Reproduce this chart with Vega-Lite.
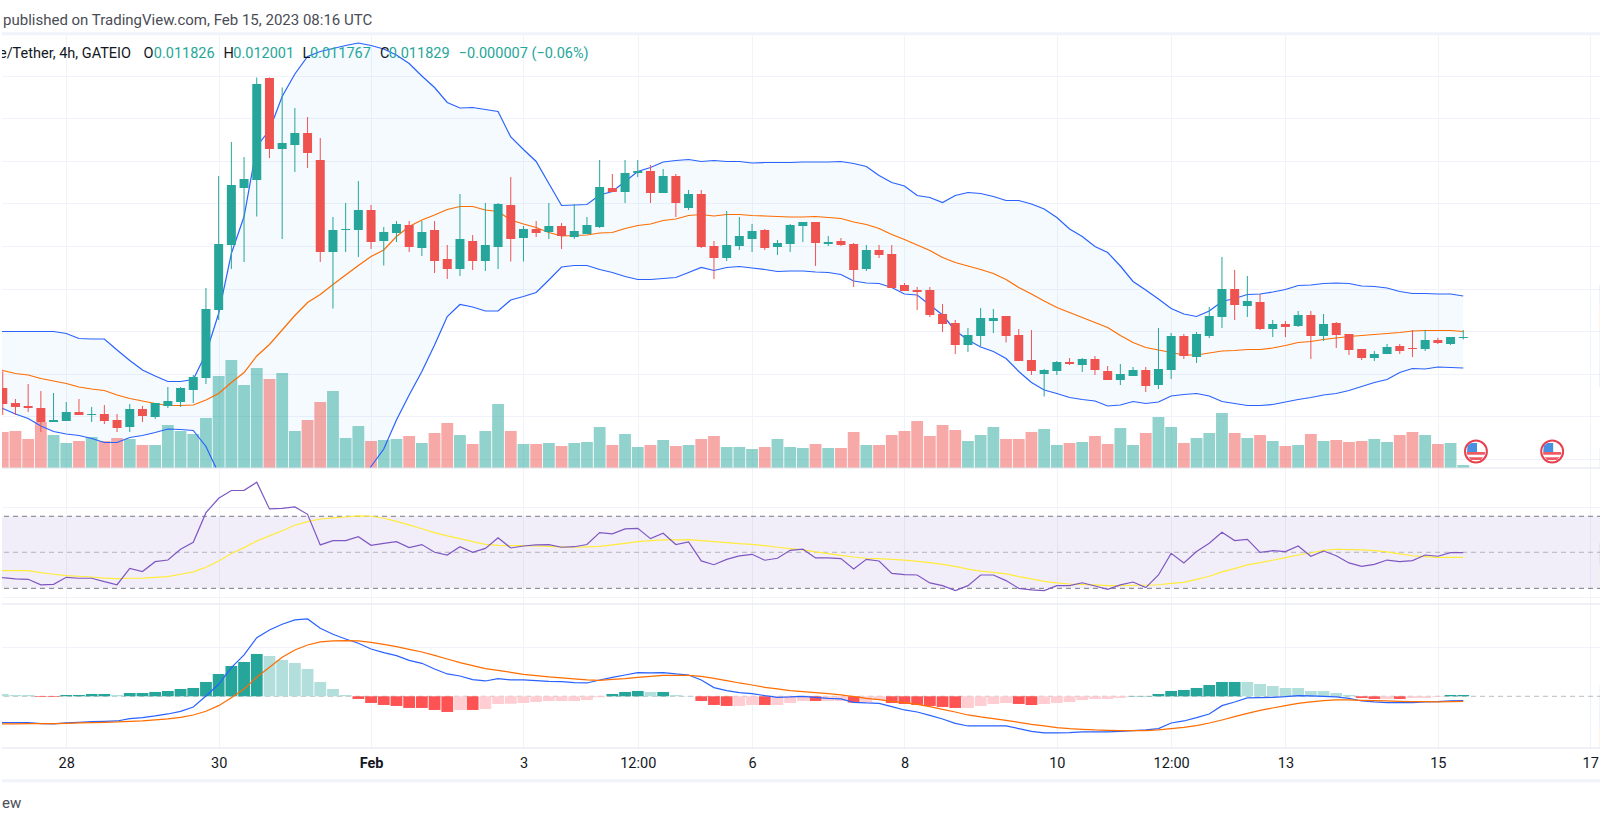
{"$schema":"https://vega.github.io/schema/vega-lite/v6.json","padding":0,"spacing":0,"bounds":"flush","background":"#ffffff","config":{"view":{"stroke":null},"concat":{"spacing":0}},
"datasets":{"bars":[
{"i":-6,"u":0.01195,"m":0.01121,"b":0.0105,"r":37,"s":39.8,"ml":-79,"sl":-83},
{"i":-5,"o":0.01082,"h":0.01115,"l":0.01028,"c":0.0105,"v":108,"d":"dn","u":0.01195,"m":0.01117,"b":0.01041,"r":35.9,"s":39.8,"hc":"b","mh":7,"ml":-79,"sl":-83},
{"i":-4,"o":0.01052,"h":0.0106,"l":0.01028,"c":0.01044,"v":111,"d":"dn","u":0.01195,"m":0.01111,"b":0.0103,"r":35.2,"s":39.8,"hc":"b","mh":4,"ml":-79,"sl":-83},
{"i":-3,"o":0.01046,"h":0.0109,"l":0.01034,"c":0.01042,"v":87,"d":"dn","u":0.01195,"m":0.01108,"b":0.01021,"r":35,"s":39.8,"hc":"b","mh":4,"ml":-79,"sl":-82},
{"i":-2,"o":0.01042,"h":0.01076,"l":0.00994,"c":0.01014,"v":138,"d":"dn","u":0.01195,"m":0.01101,"b":0.01006,"r":31.9,"s":38.7,"hc":"c","mh":-2,"ml":-82,"sl":-82},
{"i":-1,"o":0.01014,"h":0.01072,"l":0.01014,"c":0.01018,"v":99,"d":"up","u":0.01195,"m":0.01096,"b":0.00995,"r":32.2,"s":37.8,"hc":"c","mh":-2,"ml":-83,"sl":-82},
{"i":0,"o":0.01016,"h":0.01054,"l":0.01016,"c":0.01034,"v":75,"d":"up","u":0.01191,"m":0.01091,"b":0.0099,"r":36.1,"s":37,"hc":"a","mh":4,"ml":-80,"sl":-81},
{"i":1,"o":0.01034,"h":0.0106,"l":0.01028,"c":0.01028,"v":81,"d":"dn","u":0.01181,"m":0.01084,"b":0.00987,"r":35.6,"s":36.7,"hc":"a","mh":4,"ml":-78,"sl":-80},
{"i":2,"o":0.01028,"h":0.01044,"l":0.01014,"c":0.0103,"v":93,"d":"up","u":0.0118,"m":0.0108,"b":0.00981,"r":35.6,"s":36.3,"hc":"a","mh":7,"ml":-76,"sl":-79},
{"i":3,"o":0.0103,"h":0.01048,"l":0.0101,"c":0.01016,"v":81,"d":"dn","u":0.0118,"m":0.01077,"b":0.00973,"r":33.7,"s":35.7,"hc":"a","mh":7,"ml":-75,"sl":-78},
{"i":4,"o":0.01018,"h":0.0103,"l":0.00994,"c":0.01002,"v":90,"d":"dn","u":0.01158,"m":0.01068,"b":0.00973,"r":32,"s":35.4,"hc":"b","mh":4,"ml":-74,"sl":-77},
{"i":5,"o":0.01004,"h":0.0105,"l":0.00994,"c":0.0104,"v":87,"d":"up","u":0.01137,"m":0.01061,"b":0.00983,"r":41.1,"s":35.6,"hc":"a","mh":10,"ml":-67,"sl":-75},
{"i":6,"o":0.0104,"h":0.01046,"l":0.01014,"c":0.01026,"v":69,"d":"dn","u":0.01118,"m":0.01056,"b":0.00987,"r":39.3,"s":35.7,"hc":"a","mh":10,"ml":-64,"sl":-74},
{"i":7,"o":0.01024,"h":0.01052,"l":0.0102,"c":0.01052,"v":69,"d":"up","u":0.01106,"m":0.01051,"b":0.00993,"r":44.8,"s":36.1,"hc":"a","mh":13,"ml":-59,"sl":-71},
{"i":8,"o":0.01046,"h":0.01084,"l":0.01042,"c":0.01056,"v":129,"d":"up","u":0.01095,"m":0.01047,"b":0.01,"r":45.7,"s":36.5,"hc":"a","mh":16,"ml":-53,"sl":-68},
{"i":9,"o":0.01054,"h":0.01084,"l":0.01044,"c":0.01082,"v":111,"d":"up","u":0.01095,"m":0.01047,"b":0.00999,"r":51.7,"s":37.8,"hc":"a","mh":22,"ml":-45,"sl":-63},
{"i":10,"o":0.01078,"h":0.01108,"l":0.01052,"c":0.01104,"v":102,"d":"up","u":0.01099,"m":0.01048,"b":0.00997,"r":55.6,"s":39.1,"hc":"a","mh":25,"ml":-32,"sl":-56},
{"i":11,"o":0.01102,"h":0.01282,"l":0.0109,"c":0.0124,"v":150,"d":"up","u":0.01151,"m":0.01058,"b":0.00965,"r":72,"s":41.7,"hc":"a","mh":43,"ml":1,"sl":-45},
{"i":12,"o":0.01238,"h":0.01506,"l":0.01218,"c":0.0137,"v":276,"d":"up","u":0.01231,"m":0.01071,"b":0.00911,"r":80,"s":45.2,"hc":"a","mh":67,"ml":36,"sl":-28},
{"i":13,"o":0.01368,"h":0.01574,"l":0.0132,"c":0.01488,"v":324,"d":"up","u":0.01351,"m":0.01093,"b":0.00835,"r":84.3,"s":49.3,"hc":"a","mh":91,"ml":86,"sl":-4},
{"i":14,"o":0.01482,"h":0.01544,"l":0.01334,"c":0.015,"v":249,"d":"up","u":0.01425,"m":0.01113,"b":0.00801,"r":84.4,"s":52.6,"hc":"a","mh":103,"ml":124,"sl":22},
{"i":15,"o":0.01498,"h":0.01703,"l":0.01425,"c":0.0169,"v":300,"d":"up","u":0.01565,"m":0.01146,"b":0.00727,"r":88.9,"s":56.3,"hc":"a","mh":127,"ml":176,"sl":57},
{"i":16,"o":0.01702,"h":0.01703,"l":0.01542,"c":0.0156,"v":267,"d":"dn","u":0.01598,"m":0.01169,"b":0.0074,"r":74.1,"s":59.1,"hc":"b","mh":121,"ml":199,"sl":87},
{"i":17,"o":0.0156,"h":0.01683,"l":0.0138,"c":0.01572,"v":285,"d":"up","u":0.01665,"m":0.01198,"b":0.00731,"r":74.4,"s":62,"hc":"b","mh":109,"ml":216,"sl":117},
{"i":18,"o":0.01568,"h":0.01642,"l":0.01514,"c":0.01592,"v":111,"d":"up","u":0.0171,"m":0.01227,"b":0.00744,"r":75.2,"s":65,"hc":"b","mh":100,"ml":229,"sl":139},
{"i":19,"o":0.01592,"h":0.01624,"l":0.01522,"c":0.01552,"v":144,"d":"dn","u":0.01745,"m":0.01253,"b":0.00761,"r":71.1,"s":67,"hc":"b","mh":82,"ml":232,"sl":154},
{"i":20,"o":0.01538,"h":0.01582,"l":0.01334,"c":0.01354,"v":198,"d":"dn","u":0.01755,"m":0.01269,"b":0.00783,"r":54.1,"s":68.5,"hc":"b","mh":43,"ml":204,"sl":163},
{"i":21,"o":0.01354,"h":0.01424,"l":0.01241,"c":0.01398,"v":231,"d":"up","u":0.01761,"m":0.01289,"b":0.00817,"r":56.5,"s":69.1,"hc":"b","mh":22,"ml":186,"sl":166},
{"i":22,"o":0.01398,"h":0.01452,"l":0.01354,"c":0.014,"v":90,"d":"up","u":0.01767,"m":0.01308,"b":0.00849,"r":56.5,"s":69.6,"hc":"b","mh":4,"ml":172,"sl":167},
{"i":23,"o":0.01398,"h":0.01496,"l":0.01344,"c":0.01438,"v":126,"d":"up","u":0.01772,"m":0.01327,"b":0.00878,"r":58.7,"s":70.2,"hc":"c","mh":-8,"ml":159,"sl":166},
{"i":24,"o":0.01438,"h":0.01448,"l":0.0136,"c":0.01374,"v":81,"d":"dn","u":0.01767,"m":0.01345,"b":0.00925,"r":53.9,"s":70,"hc":"c","mh":-20,"ml":142,"sl":162},
{"i":25,"o":0.01376,"h":0.01404,"l":0.01327,"c":0.01394,"v":84,"d":"up","u":0.0176,"m":0.01358,"b":0.0096,"r":55,"s":68.9,"hc":"c","mh":-26,"ml":131,"sl":156},
{"i":26,"o":0.01392,"h":0.01416,"l":0.01374,"c":0.0141,"v":87,"d":"up","u":0.01748,"m":0.01385,"b":0.01018,"r":55.9,"s":67.2,"hc":"c","mh":-29,"ml":122,"sl":149},
{"i":27,"o":0.01408,"h":0.01416,"l":0.01354,"c":0.01364,"v":96,"d":"dn","u":0.01731,"m":0.01405,"b":0.01068,"r":52.6,"s":65.2,"hc":"c","mh":-35,"ml":108,"sl":141},
{"i":28,"o":0.01362,"h":0.01416,"l":0.01346,"c":0.01394,"v":75,"d":"up","u":0.01706,"m":0.01418,"b":0.01115,"r":54.3,"s":63.1,"hc":"c","mh":-35,"ml":99,"sl":133},
{"i":29,"o":0.01398,"h":0.01416,"l":0.01312,"c":0.01336,"v":105,"d":"dn","u":0.01683,"m":0.01428,"b":0.01168,"r":50,"s":60.9,"hc":"c","mh":-41,"ml":82,"sl":123},
{"i":30,"o":0.0134,"h":0.01368,"l":0.013,"c":0.0132,"v":135,"d":"dn","u":0.01653,"m":0.01439,"b":0.01225,"r":48.5,"s":59.1,"hc":"c","mh":-47,"ml":67,"sl":112},
{"i":31,"o":0.0132,"h":0.0147,"l":0.01306,"c":0.0138,"v":99,"d":"up","u":0.01642,"m":0.01445,"b":0.01249,"r":53.1,"s":57.6,"hc":"e","mh":-41,"ml":61,"sl":101},
{"i":32,"o":0.01376,"h":0.01388,"l":0.01318,"c":0.01336,"v":72,"d":"dn","u":0.01643,"m":0.01445,"b":0.01244,"r":50,"s":55.9,"hc":"c","mh":-41,"ml":50,"sl":92},
{"i":33,"o":0.01336,"h":0.01452,"l":0.01316,"c":0.01368,"v":111,"d":"up","u":0.01639,"m":0.01438,"b":0.01236,"r":52.2,"s":54.4,"hc":"e","mh":-38,"ml":46,"sl":83},
{"i":34,"o":0.01364,"h":0.01452,"l":0.0132,"c":0.0145,"v":192,"d":"up","u":0.01635,"m":0.01435,"b":0.01236,"r":58.1,"s":53.9,"hc":"e","mh":-23,"ml":53,"sl":78},
{"i":35,"o":0.01448,"h":0.01504,"l":0.01335,"c":0.0138,"v":111,"d":"dn","u":0.01584,"m":0.01418,"b":0.01258,"r":52.4,"s":53.7,"hc":"e","mh":-22,"ml":49,"sl":72},
{"i":36,"o":0.01382,"h":0.01406,"l":0.01335,"c":0.014,"v":72,"d":"up","u":0.01559,"m":0.0141,"b":0.01265,"r":53.5,"s":53.7,"hc":"e","mh":-20,"ml":49,"sl":66},
{"i":37,"o":0.014,"h":0.01416,"l":0.01384,"c":0.01392,"v":72,"d":"dn","u":0.01535,"m":0.01403,"b":0.01273,"r":54.1,"s":53.5,"hc":"e","mh":-17,"ml":47,"sl":62},
{"i":38,"o":0.01394,"h":0.01452,"l":0.0138,"c":0.01406,"v":75,"d":"up","u":0.01491,"m":0.01393,"b":0.01298,"r":54.3,"s":53.3,"hc":"e","mh":-14,"ml":45,"sl":58},
{"i":39,"o":0.01406,"h":0.01412,"l":0.0136,"c":0.01386,"v":66,"d":"dn","u":0.01447,"m":0.01386,"b":0.01324,"r":52.8,"s":53,"hc":"e","mh":-14,"ml":44,"sl":55},
{"i":40,"o":0.01384,"h":0.0145,"l":0.0138,"c":0.01396,"v":75,"d":"up","u":0.01448,"m":0.01387,"b":0.01327,"r":53.1,"s":52.8,"hc":"e","mh":-14,"ml":41,"sl":52},
{"i":41,"o":0.0139,"h":0.01424,"l":0.0139,"c":0.01408,"v":78,"d":"up","u":0.01449,"m":0.01388,"b":0.01327,"r":54.3,"s":53,"hc":"e","mh":-11,"ml":40,"sl":49},
{"i":42,"o":0.01404,"h":0.01538,"l":0.01402,"c":0.01484,"v":123,"d":"up","u":0.01468,"m":0.01392,"b":0.01319,"r":60.9,"s":53.3,"hc":"e","mh":-3,"ml":49,"sl":48},
{"i":43,"o":0.01482,"h":0.0151,"l":0.01474,"c":0.01474,"v":69,"d":"dn","u":0.01475,"m":0.01393,"b":0.01313,"r":60.2,"s":54.1,"hc":"a","mh":7,"ml":57,"sl":51},
{"i":44,"o":0.01474,"h":0.01538,"l":0.01452,"c":0.01512,"v":102,"d":"up","u":0.01495,"m":0.01401,"b":0.01305,"r":63,"s":55,"hc":"a","mh":13,"ml":64,"sl":53},
{"i":45,"o":0.01512,"h":0.01538,"l":0.01504,"c":0.01516,"v":63,"d":"up","u":0.01515,"m":0.01407,"b":0.01299,"r":63.3,"s":55.9,"hc":"a","mh":16,"ml":71,"sl":57},
{"i":46,"o":0.01516,"h":0.01528,"l":0.01452,"c":0.01472,"v":69,"d":"dn","u":0.01523,"m":0.0141,"b":0.01299,"r":57.6,"s":56.5,"hc":"b","mh":13,"ml":70,"sl":60},
{"i":47,"o":0.01472,"h":0.0152,"l":0.01472,"c":0.01506,"v":84,"d":"up","u":0.01534,"m":0.01417,"b":0.01301,"r":60.6,"s":56.9,"hc":"a","mh":13,"ml":71,"sl":63},
{"i":48,"o":0.01506,"h":0.0151,"l":0.01424,"c":0.01452,"v":66,"d":"dn","u":0.01537,"m":0.0142,"b":0.01303,"r":54.3,"s":56.9,"hc":"b","mh":4,"ml":67,"sl":63},
{"i":49,"o":0.01442,"h":0.01478,"l":0.01438,"c":0.0147,"v":69,"d":"up","u":0.01539,"m":0.01427,"b":0.01313,"r":55.7,"s":57,"hc":"b","mh":1,"ml":64,"sl":63},
{"i":50,"o":0.0147,"h":0.01478,"l":0.01362,"c":0.01364,"v":87,"d":"dn","u":0.01535,"m":0.01429,"b":0.01323,"r":45.2,"s":56.5,"hc":"c","mh":-14,"ml":49,"sl":60},
{"i":51,"o":0.01366,"h":0.01376,"l":0.013,"c":0.01342,"v":96,"d":"dn","u":0.01537,"m":0.01426,"b":0.01317,"r":43.1,"s":55.9,"hc":"c","mh":-26,"ml":26,"sl":54},
{"i":52,"o":0.01342,"h":0.01436,"l":0.01336,"c":0.01368,"v":63,"d":"up","u":0.01535,"m":0.01429,"b":0.01323,"r":46.1,"s":55.4,"hc":"c","mh":-29,"ml":17,"sl":47},
{"i":53,"o":0.01366,"h":0.01424,"l":0.01358,"c":0.01386,"v":63,"d":"up","u":0.01535,"m":0.01429,"b":0.01325,"r":48,"s":54.8,"hc":"e","mh":-29,"ml":11,"sl":40},
{"i":54,"o":0.0138,"h":0.0141,"l":0.01354,"c":0.01396,"v":57,"d":"up","u":0.01532,"m":0.01427,"b":0.01322,"r":48.9,"s":54.4,"hc":"e","mh":-26,"ml":8,"sl":34},
{"i":55,"o":0.01398,"h":0.014,"l":0.01358,"c":0.01362,"v":63,"d":"dn","u":0.01533,"m":0.01426,"b":0.01319,"r":45.6,"s":53.7,"hc":"c","mh":-26,"ml":2,"sl":27},
{"i":56,"o":0.01364,"h":0.01378,"l":0.01348,"c":0.01372,"v":87,"d":"up","u":0.01533,"m":0.01425,"b":0.01315,"r":46.7,"s":52.8,"hc":"e","mh":-26,"ml":-3,"sl":22},
{"i":57,"o":0.0137,"h":0.0141,"l":0.01354,"c":0.01408,"v":63,"d":"up","u":0.01533,"m":0.01424,"b":0.01316,"r":51.1,"s":52,"hc":"e","mh":-20,"ml":-2,"sl":17},
{"i":58,"o":0.01406,"h":0.01414,"l":0.01374,"c":0.01414,"v":60,"d":"up","u":0.01534,"m":0.01424,"b":0.01316,"r":51.7,"s":51.3,"hc":"e","mh":-14,"ml":0,"sl":14},
{"i":59,"o":0.01414,"h":0.01414,"l":0.01326,"c":0.01372,"v":72,"d":"dn","u":0.01534,"m":0.01425,"b":0.01314,"r":46.9,"s":50.2,"hc":"c","mh":-14,"ml":-3,"sl":11},
{"i":60,"o":0.0137,"h":0.01386,"l":0.01366,"c":0.01374,"v":60,"d":"up","u":0.01534,"m":0.01423,"b":0.01313,"r":46.9,"s":49.3,"hc":"e","mh":-14,"ml":-6,"sl":8},
{"i":61,"o":0.01376,"h":0.01382,"l":0.01366,"c":0.01368,"v":60,"d":"dn","u":0.01535,"m":0.01421,"b":0.01309,"r":46.5,"s":48.3,"hc":"e","mh":-14,"ml":-8,"sl":4},
{"i":62,"o":0.0137,"h":0.01372,"l":0.01284,"c":0.01318,"v":108,"d":"dn","u":0.01531,"m":0.01414,"b":0.01296,"r":40.7,"s":47.4,"hc":"c","mh":-19,"ml":-18,"sl":-1},
{"i":63,"o":0.0132,"h":0.01368,"l":0.01316,"c":0.01358,"v":69,"d":"up","u":0.01525,"m":0.01409,"b":0.01292,"r":46.1,"s":46.7,"hc":"e","mh":-19,"ml":-20,"sl":-6},
{"i":64,"o":0.01358,"h":0.01368,"l":0.01342,"c":0.01348,"v":69,"d":"dn","u":0.01507,"m":0.01401,"b":0.01291,"r":45.2,"s":46.5,"hc":"e","mh":-11,"ml":-21,"sl":-10},
{"i":65,"o":0.0135,"h":0.01368,"l":0.01282,"c":0.01282,"v":99,"d":"dn","u":0.01493,"m":0.01389,"b":0.01283,"r":38.3,"s":46.1,"hc":"c","mh":-20,"ml":-31,"sl":-15},
{"i":66,"o":0.01288,"h":0.01292,"l":0.01276,"c":0.01276,"v":111,"d":"dn","u":0.01486,"m":0.01379,"b":0.0127,"r":37.6,"s":45.7,"hc":"c","mh":-23,"ml":-41,"sl":-19},
{"i":67,"o":0.01278,"h":0.01284,"l":0.01238,"c":0.01274,"v":141,"d":"dn","u":0.01467,"m":0.01368,"b":0.01268,"r":37.4,"s":45,"hc":"c","mh":-26,"ml":-47,"sl":-24},
{"i":68,"o":0.01278,"h":0.01284,"l":0.01224,"c":0.01228,"v":96,"d":"dn","u":0.01463,"m":0.01357,"b":0.01248,"r":33,"s":44.3,"hc":"c","mh":-29,"ml":-57,"sl":-31},
{"i":69,"o":0.0123,"h":0.0125,"l":0.01194,"c":0.0121,"v":129,"d":"dn","u":0.01453,"m":0.01343,"b":0.01228,"r":31.5,"s":43.3,"hc":"c","mh":-32,"ml":-68,"sl":-39},
{"i":70,"o":0.01212,"h":0.01218,"l":0.0115,"c":0.01168,"v":114,"d":"dn","u":0.01467,"m":0.01333,"b":0.01197,"r":28.7,"s":42.2,"hc":"c","mh":-35,"ml":-81,"sl":-47},
{"i":71,"o":0.01168,"h":0.01202,"l":0.01154,"c":0.01188,"v":81,"d":"up","u":0.01473,"m":0.01326,"b":0.01178,"r":31.5,"s":40.7,"hc":"e","mh":-35,"ml":-89,"sl":-56},
{"i":72,"o":0.01186,"h":0.01242,"l":0.01166,"c":0.01222,"v":99,"d":"up","u":0.01471,"m":0.01319,"b":0.01164,"r":37.4,"s":39.6,"hc":"e","mh":-29,"ml":-89,"sl":-62},
{"i":73,"o":0.01216,"h":0.0124,"l":0.01192,"c":0.01222,"v":123,"d":"up","u":0.01465,"m":0.01311,"b":0.01155,"r":37.4,"s":38.9,"hc":"e","mh":-23,"ml":-89,"sl":-67},
{"i":74,"o":0.01226,"h":0.01226,"l":0.01173,"c":0.01186,"v":87,"d":"dn","u":0.01457,"m":0.01299,"b":0.01141,"r":34.3,"s":38,"hc":"e","mh":-20,"ml":-89,"sl":-72},
{"i":75,"o":0.01188,"h":0.012,"l":0.01136,"c":0.01136,"v":87,"d":"dn","u":0.01457,"m":0.01283,"b":0.01115,"r":30,"s":36.5,"hc":"c","mh":-23,"ml":-97,"sl":-78},
{"i":76,"o":0.01138,"h":0.01198,"l":0.01108,"c":0.01116,"v":108,"d":"dn","u":0.0145,"m":0.0127,"b":0.01093,"r":29.1,"s":35.2,"hc":"c","mh":-26,"ml":-105,"sl":-84},
{"i":77,"o":0.0111,"h":0.0112,"l":0.01065,"c":0.01118,"v":117,"d":"up","u":0.0144,"m":0.01256,"b":0.01078,"r":28.7,"s":33.9,"hc":"e","mh":-23,"ml":-110,"sl":-89},
{"i":78,"o":0.01116,"h":0.01136,"l":0.01108,"c":0.01134,"v":69,"d":"up","u":0.01423,"m":0.01243,"b":0.01071,"r":31.5,"s":33,"hc":"e","mh":-20,"ml":-110,"sl":-94},
{"i":79,"o":0.01134,"h":0.01142,"l":0.01128,"c":0.0113,"v":75,"d":"dn","u":0.014,"m":0.01233,"b":0.01063,"r":31.5,"s":32.4,"hc":"e","mh":-17,"ml":-109,"sl":-97},
{"i":80,"o":0.01128,"h":0.01142,"l":0.01114,"c":0.0114,"v":78,"d":"up","u":0.01385,"m":0.01223,"b":0.01059,"r":33.1,"s":32.2,"hc":"e","mh":-11,"ml":-107,"sl":-99},
{"i":81,"o":0.0114,"h":0.01146,"l":0.01108,"c":0.01118,"v":96,"d":"dn","u":0.01365,"m":0.01213,"b":0.01056,"r":31.3,"s":31.9,"hc":"e","mh":-8,"ml":-107,"sl":-101},
{"i":82,"o":0.01116,"h":0.01126,"l":0.01098,"c":0.01098,"v":72,"d":"dn","u":0.01353,"m":0.01203,"b":0.01046,"r":29.4,"s":31.5,"hc":"e","mh":-8,"ml":-107,"sl":-102},
{"i":83,"o":0.01098,"h":0.0113,"l":0.01088,"c":0.0111,"v":120,"d":"up","u":0.01326,"m":0.01187,"b":0.01048,"r":31.9,"s":31.5,"hc":"e","mh":-5,"ml":-105,"sl":-103},
{"i":84,"o":0.01106,"h":0.01124,"l":0.01106,"c":0.01118,"v":69,"d":"up","u":0.01295,"m":0.01173,"b":0.01055,"r":33.5,"s":31.7,"hc":"a","mh":1,"ml":-103,"sl":-103},
{"i":85,"o":0.01118,"h":0.01124,"l":0.01074,"c":0.01086,"v":105,"d":"dn","u":0.01278,"m":0.01163,"b":0.01051,"r":30.4,"s":31.7,"hc":"a","mh":1,"ml":-101,"sl":-103},
{"i":86,"o":0.01088,"h":0.01202,"l":0.0108,"c":0.0112,"v":153,"d":"up","u":0.0126,"m":0.01158,"b":0.01054,"r":37.4,"s":32,"hc":"a","mh":7,"ml":-97,"sl":-101},
{"i":87,"o":0.01118,"h":0.01192,"l":0.011,"c":0.01186,"v":123,"d":"up","u":0.01241,"m":0.01153,"b":0.01066,"r":49.4,"s":32.8,"hc":"a","mh":16,"ml":-80,"sl":-97},
{"i":88,"o":0.01186,"h":0.0119,"l":0.0114,"c":0.01146,"v":75,"d":"dn","u":0.0123,"m":0.01148,"b":0.01069,"r":44.1,"s":33.3,"hc":"a","mh":19,"ml":-74,"sl":-93},
{"i":89,"o":0.01144,"h":0.01194,"l":0.01132,"c":0.0119,"v":90,"d":"up","u":0.01225,"m":0.01148,"b":0.01071,"r":50.4,"s":35,"hc":"a","mh":25,"ml":-64,"sl":-88},
{"i":90,"o":0.01186,"h":0.01244,"l":0.01182,"c":0.01226,"v":105,"d":"up","u":0.01236,"m":0.01152,"b":0.01066,"r":55,"s":36.7,"hc":"a","mh":34,"ml":-53,"sl":-80},
{"i":91,"o":0.01224,"h":0.01344,"l":0.01202,"c":0.0128,"v":165,"d":"up","u":0.01255,"m":0.01156,"b":0.01055,"r":61.1,"s":39.1,"hc":"a","mh":43,"ml":-28,"sl":-71},
{"i":92,"o":0.0128,"h":0.01318,"l":0.01218,"c":0.01248,"v":105,"d":"dn","u":0.01261,"m":0.01157,"b":0.01051,"r":56.5,"s":40.9,"hc":"a","mh":43,"ml":-17,"sl":-61},
{"i":93,"o":0.01246,"h":0.01306,"l":0.01224,"c":0.01256,"v":90,"d":"up","u":0.01269,"m":0.01159,"b":0.01047,"r":57.2,"s":43,"hc":"b","mh":43,"ml":-5,"sl":-51},
{"i":94,"o":0.01254,"h":0.0127,"l":0.01198,"c":0.012,"v":99,"d":"dn","u":0.0127,"m":0.01159,"b":0.01047,"r":50,"s":44.3,"hc":"b","mh":37,"ml":-4,"sl":-42},
{"i":95,"o":0.012,"h":0.01218,"l":0.01184,"c":0.0121,"v":81,"d":"up","u":0.01274,"m":0.01162,"b":0.01049,"r":50.9,"s":45.6,"hc":"b","mh":31,"ml":-3,"sl":-35},
{"i":96,"o":0.0121,"h":0.01216,"l":0.01184,"c":0.01204,"v":66,"d":"dn","u":0.01279,"m":0.01167,"b":0.01054,"r":50.4,"s":47,"hc":"b","mh":25,"ml":-1,"sl":-28},
{"i":97,"o":0.01206,"h":0.01236,"l":0.01204,"c":0.01228,"v":69,"d":"up","u":0.01287,"m":0.01173,"b":0.01059,"r":53.5,"s":48.5,"hc":"b","mh":25,"ml":2,"sl":-21},
{"i":98,"o":0.01228,"h":0.01236,"l":0.0114,"c":0.01186,"v":102,"d":"dn","u":0.01288,"m":0.01175,"b":0.01063,"r":47.8,"s":49.6,"hc":"b","mh":16,"ml":1,"sl":-17},
{"i":99,"o":0.01186,"h":0.0123,"l":0.01176,"c":0.0121,"v":81,"d":"up","u":0.01291,"m":0.01179,"b":0.01068,"r":50.7,"s":51.1,"hc":"b","mh":16,"ml":0,"sl":-13},
{"i":100,"o":0.01212,"h":0.01214,"l":0.01162,"c":0.01188,"v":84,"d":"dn","u":0.01292,"m":0.01182,"b":0.01071,"r":48.1,"s":51.7,"hc":"b","mh":10,"ml":-2,"sl":-11},
{"i":101,"o":0.0119,"h":0.0119,"l":0.01148,"c":0.01158,"v":78,"d":"dn","u":0.01291,"m":0.01185,"b":0.01077,"r":44.1,"s":51.5,"hc":"b","mh":4,"ml":-6,"sl":-11},
{"i":102,"o":0.0116,"h":0.0116,"l":0.01138,"c":0.01142,"v":81,"d":"dn","u":0.01286,"m":0.01187,"b":0.01085,"r":42.2,"s":51.3,"hc":"c","mh":-5,"ml":-14,"sl":-12},
{"i":103,"o":0.01142,"h":0.01156,"l":0.01136,"c":0.0115,"v":87,"d":"up","u":0.01285,"m":0.01189,"b":0.01093,"r":43.3,"s":50.9,"hc":"c","mh":-8,"ml":-17,"sl":-13},
{"i":104,"o":0.0115,"h":0.0117,"l":0.0115,"c":0.01164,"v":78,"d":"up","u":0.01282,"m":0.01191,"b":0.01099,"r":45.7,"s":50.2,"hc":"e","mh":-8,"ml":-19,"sl":-14},
{"i":105,"o":0.01166,"h":0.0117,"l":0.0115,"c":0.01156,"v":99,"d":"dn","u":0.01275,"m":0.01193,"b":0.01113,"r":44.8,"s":49.1,"hc":"c","mh":-8,"ml":-19,"sl":-15},
{"i":106,"o":0.01162,"h":0.01198,"l":0.01144,"c":0.0116,"v":108,"d":"dn","u":0.01271,"m":0.01196,"b":0.01121,"r":45.4,"s":48.1,"hc":"e","mh":-5,"ml":-19,"sl":-16},
{"i":107,"o":0.0116,"h":0.01198,"l":0.01156,"c":0.01178,"v":99,"d":"up","u":0.01271,"m":0.01197,"b":0.0112,"r":48.5,"s":47.6,"hc":"e","mh":-5,"ml":-17,"sl":-16},
{"i":108,"o":0.01178,"h":0.01182,"l":0.0117,"c":0.01172,"v":72,"d":"dn","u":0.0127,"m":0.01197,"b":0.01124,"r":47.8,"s":47.2,"hc":"e","mh":-2,"ml":-16,"sl":-17},
{"i":109,"o":0.0117,"h":0.01184,"l":0.01168,"c":0.01184,"v":75,"d":"up","u":0.0127,"m":0.01197,"b":0.01123,"r":49.8,"s":47.2,"hc":"a","mh":4,"ml":-14,"sl":-16},
{"i":110,"o":0.01182,"h":0.01198,"l":0.01179,"c":0.01184,"v":9,"d":"up","u":0.01266,"m":0.01195,"b":0.01122,"r":49.8,"s":47.2,"hc":"a","mh":4,"ml":-13,"sl":-15}
],
"ohlc":[{"t":"e/Tether, 4h, GATEIO","at":-5.3,"k":"name"},{"t":"O","at":6.09,"k":"name"},{"t":"0.011826","at":6.89,"k":"val"},{"t":"H","at":12.38,"k":"name"},{"t":"0.012001","at":13.15,"k":"val"},{"t":"L","at":18.6,"k":"name"},{"t":"0.011767","at":19.19,"k":"val"},{"t":"C","at":24.7,"k":"name"},{"t":"0.011829","at":25.39,"k":"val"},{"t":"−0.000007 (−0.06%)","at":30.9,"k":"val"}],
"flags":[{"i":111,"p":0.00955},{"i":117,"p":0.00955}]},
"vconcat":[
{"width":1600,"height":35,"data":{"values":[{"t":"published on TradingView.com, Feb 15, 2023 08:16 UTC","at":-4.98}]},"layer":[
{"mark":{"type":"text","align":"left","baseline":"middle","font":"Roboto","fontSize":15,"color":"#4a4c55","clip":true},"encoding":{"x":{"field":"at","type":"quantitative","scale":{"domain":[-5.06,120.925],"nice":false,"zero":false,"padding":0},"axis":null},"y":{"datum":0.44,"type":"quantitative","scale":{"domain":[0,1],"nice":false},"axis":null},"text":{"field":"t"}}},
{"mark":{"type":"rule","color":"#f0f3fa","strokeWidth":3},"data":{"values":[{}]},"encoding":{"y":{"datum":0.037,"type":"quantitative","scale":{"domain":[0,1],"nice":false},"axis":null}}}
]},
{"width":1600,"height":433,"data":{"name":"bars"},"resolve":{"scale":{"y":"independent","color":"independent"},"axis":{"y":"independent"}},"layer":[
{"mark":{"type":"area","color":"#2196f3","opacity":0.05,"clip":true},"encoding":{"x":{"field":"i","type":"quantitative","scale":{"domain":[-5.06,120.925],"nice":false,"zero":false,"padding":0},"axis":{"values":[0,12,24,36,45,54,66,78,87,96,108,120],"title":null,"labels":false,"ticks":false,"domain":false,"grid":true,"gridColor":"#f0f3fa"}},"y":{"field":"u","type":"quantitative","scale":{"domain":[0.00922,0.01788],"nice":false,"zero":false},"axis":{"values":[0.01707,0.01622,0.01537,0.01452,0.01367,0.01281,0.01197,0.01111,0.01027,0.00941],"title":null,"labels":false,"ticks":false,"domain":false,"grid":true,"gridColor":"#f0f3fa"}},"y2":{"field":"b"}}},
{"mark":{"type":"bar","size":11.8,"opacity":0.5,"clip":true},"encoding":{"x":{"field":"i","type":"quantitative"},"y":{"field":"v","type":"quantitative","scale":{"domain":[0,1299],"nice":false},"axis":null},"color":{"field":"d","type":"nominal","legend":null,"scale":{"domain":["up","dn"],"range":["#26a69a","#ef5350"]}}}},
{"mark":{"type":"line","color":"#2962ff","strokeWidth":1.2,"clip":true},"encoding":{"x":{"field":"i","type":"quantitative"},"y":{"field":"u","type":"quantitative","scale":{"domain":[0.00922,0.01788],"nice":false,"zero":false},"axis":null}}},
{"mark":{"type":"line","color":"#2962ff","strokeWidth":1.2,"clip":true},"encoding":{"x":{"field":"i","type":"quantitative"},"y":{"field":"b","type":"quantitative","scale":{"domain":[0.00922,0.01788],"nice":false,"zero":false},"axis":null}}},
{"mark":{"type":"line","color":"#ff6d00","strokeWidth":1.2,"clip":true},"encoding":{"x":{"field":"i","type":"quantitative"},"y":{"field":"m","type":"quantitative","scale":{"domain":[0.00922,0.01788],"nice":false,"zero":false},"axis":null}}},
{"mark":{"type":"rule","strokeWidth":1,"clip":true},"encoding":{"x":{"field":"i","type":"quantitative"},"y":{"field":"h","type":"quantitative","scale":{"domain":[0.00922,0.01788],"nice":false,"zero":false},"axis":null},"y2":{"field":"l"},"color":{"field":"d","type":"nominal","legend":null,"scale":{"domain":["up","dn"],"range":["#26a69a","#ef5350"]}}}},
{"mark":{"type":"bar","size":9,"clip":true},"encoding":{"x":{"field":"i","type":"quantitative"},"y":{"field":"o","type":"quantitative","scale":{"domain":[0.00922,0.01788],"nice":false,"zero":false},"axis":null},"y2":{"field":"c"},"color":{"field":"d","type":"nominal","legend":null,"scale":{"domain":["up","dn"],"range":["#26a69a","#ef5350"]}}}},
{"data":{"name":"flags"},"mark":{"type":"point","shape":"circle","filled":true,"fill":"#ffffff","stroke":"#e8404e","strokeWidth":2,"size":480,"opacity":1},"encoding":{"x":{"field":"i","type":"quantitative"},"y":{"field":"p","type":"quantitative","scale":{"domain":[0.00922,0.01788],"nice":false,"zero":false},"axis":null}}},
{"data":{"name":"flags"},"mark":{"type":"point","shape":"M-0.85,0.05L0.85,0.05L0.85,0.3L-0.85,0.3ZM-0.7,0.55L0.7,0.55L0.45,0.8L-0.45,0.8Z","filled":true,"color":"#ef5a63","size":440,"opacity":1},"encoding":{"x":{"field":"i","type":"quantitative"},"y":{"field":"p","type":"quantitative","scale":{"domain":[0.00922,0.01788],"nice":false,"zero":false},"axis":null}}},
{"data":{"name":"flags"},"mark":{"type":"point","shape":"M-0.8,-0.55L-0.45,-0.8L0.1,-0.8L0.1,0.05L-0.85,0.05Z","filled":true,"color":"#4a90e2","size":440,"opacity":1},"encoding":{"x":{"field":"i","type":"quantitative"},"y":{"field":"p","type":"quantitative","scale":{"domain":[0.00922,0.01788],"nice":false,"zero":false},"axis":null}}},
{"data":{"name":"ohlc"},"mark":{"type":"text","align":"left","baseline":"middle","font":"Roboto","fontSize":14.5,"clip":true},"encoding":{"x":{"field":"at","type":"quantitative"},"y":{"datum":0.01751,"type":"quantitative","scale":{"domain":[0.00922,0.01788],"nice":false,"zero":false},"axis":null},"text":{"field":"t"},"color":{"field":"k","type":"nominal","legend":null,"scale":{"domain":["name","val"],"range":["#131722","#26a69a"]}}}},
{"data":{"values":[{}]},"mark":{"type":"rule","color":"#e0e3eb","strokeWidth":1},"encoding":{"x":{"datum":120.84,"type":"quantitative"}}},
{"data":{"values":[{"a":0.01288,"z":0.01246,"k":"blue"},{"a":0.01246,"z":0.01204,"k":"orange"},{"a":0.01204,"z":0.01126,"k":"green"},{"a":0.01126,"z":0.01084,"k":"blue"},{"a":0.00964,"z":0.00922,"k":"green"}]},"mark":{"type":"rule","strokeWidth":2},"encoding":{"x":{"datum":120.84,"type":"quantitative"},"y":{"field":"a","type":"quantitative","scale":{"domain":[0.00922,0.01788],"nice":false,"zero":false},"axis":null},"y2":{"field":"z"},"color":{"field":"k","type":"nominal","legend":null,"scale":{"domain":["blue","orange","green"],"range":["#2962ff","#ff6d00","#26a69a"]}}}}
]},
{"width":1600,"height":136,"data":{"name":"bars"},"layer":[
{"mark":{"type":"rect","color":"#7e57c2","opacity":0.1},"data":{"values":[{}]},"encoding":{"y":{"datum":70,"type":"quantitative","scale":{"domain":[21.3,96.8],"nice":false,"zero":false},"axis":{"values":[75,25.2],"title":null,"labels":false,"ticks":false,"domain":false,"grid":true,"gridColor":"#f0f3fa"}},"y2":{"datum":30}}},
{"mark":{"type":"rule","color":"#787b86","strokeDash":[5,4],"strokeWidth":1},"data":{"values":[{"lv":70},{"lv":30}]},"encoding":{"y":{"field":"lv","type":"quantitative"}}},
{"mark":{"type":"rule","color":"#787b86","strokeDash":[5,4],"strokeWidth":1,"opacity":0.5},"data":{"values":[{"lv":50}]},"encoding":{"y":{"field":"lv","type":"quantitative"}}},
{"mark":{"type":"line","color":"#ffeb3b","strokeWidth":1.2,"clip":true},"encoding":{"x":{"field":"i","type":"quantitative","scale":{"domain":[-5.06,120.925],"nice":false,"zero":false,"padding":0},"axis":{"values":[0,12,24,36,45,54,66,78,87,96,108,120],"title":null,"labels":false,"ticks":false,"domain":false,"grid":true,"gridColor":"#f0f3fa"}},"y":{"field":"s","type":"quantitative"}}},
{"mark":{"type":"line","color":"#7e57c2","strokeWidth":1.2,"clip":true},"encoding":{"x":{"field":"i","type":"quantitative"},"y":{"field":"r","type":"quantitative"}}},
{"mark":{"type":"rule","color":"#e0e3eb","strokeWidth":1},"data":{"values":[{"lv":96.8}]},"encoding":{"y":{"field":"lv","type":"quantitative"}}},
{"data":{"values":[{}]},"mark":{"type":"rule","color":"#e0e3eb","strokeWidth":1},"encoding":{"x":{"datum":120.84,"type":"quantitative"}}},
{"data":{"values":[{"a":55.2,"z":43.5,"k":"p"},{"a":43.5,"z":31.8,"k":"y"}]},"mark":{"type":"rule","strokeWidth":2},"encoding":{"x":{"datum":120.84,"type":"quantitative"},"y":{"field":"a","type":"quantitative"},"y2":{"field":"z"},"color":{"field":"k","type":"nominal","legend":null,"scale":{"domain":["p","y"],"range":["#7e57c2","#ffeb3b"]}}}}
]},
{"width":1600,"height":144,"data":{"name":"bars"},"resolve":{"scale":{"color":"independent"}},"layer":[
{"mark":{"type":"rule","color":"#787b86","strokeDash":[5,4],"strokeWidth":1,"opacity":0.5},"data":{"values":[{"lv":0}]},"encoding":{"y":{"field":"lv","type":"quantitative","scale":{"domain":[-155.1,276.9],"nice":false,"zero":false},"axis":{"values":[147],"title":null,"labels":false,"ticks":false,"domain":false,"grid":true,"gridColor":"#f0f3fa"}}}},
{"mark":{"type":"bar","size":11.8,"clip":true},"encoding":{"x":{"field":"i","type":"quantitative","scale":{"domain":[-5.06,120.925],"nice":false,"zero":false,"padding":0},"axis":{"values":[0,12,24,36,45,54,66,78,87,96,108,120],"title":null,"ticks":false,"domain":false,"grid":true,"gridColor":"#f0f3fa","labelFont":"Roboto","labelFontSize":14.5,"labelColor":"#131722","labelPadding":8,"labelOverlap":false,"labelFlush":false,"labelBound":false,"labelAngle":0,"labelExpr":"{'0':'28','12':'30','24':'Feb','36':'3','45':'12:00','54':'6','66':'8','78':'10','87':'12:00','96':'13','108':'15','120':'17'}[datum.value]","labelFontWeight":{"condition":{"test":"datum.value == 24","value":"bold"},"value":"normal"}}},"y":{"field":"mh","type":"quantitative"},"color":{"field":"hc","type":"nominal","legend":null,"scale":{"domain":["a","b","c","e"],"range":["#26a69a","#b2dfdb","#ff5252","#ffcdd2"]}}}},
{"mark":{"type":"line","color":"#2962ff","strokeWidth":1.2,"clip":true},"encoding":{"x":{"field":"i","type":"quantitative"},"y":{"field":"ml","type":"quantitative"}}},
{"mark":{"type":"line","color":"#ff6d00","strokeWidth":1.2,"clip":true},"encoding":{"x":{"field":"i","type":"quantitative"},"y":{"field":"sl","type":"quantitative"}}},
{"mark":{"type":"rule","color":"#e0e3eb","strokeWidth":1},"data":{"values":[{"lv":276.9},{"lv":-155.1}]},"encoding":{"y":{"field":"lv","type":"quantitative"}}},
{"data":{"values":[{}]},"mark":{"type":"rule","color":"#e0e3eb","strokeWidth":1},"encoding":{"x":{"datum":120.84,"type":"quantitative"}}},
{"data":{"values":[{"a":34,"z":-29,"k":"g"},{"a":-29,"z":-92,"k":"b"},{"a":-92,"z":-155,"k":"o"}]},"mark":{"type":"rule","strokeWidth":2},"encoding":{"x":{"datum":120.84,"type":"quantitative"},"y":{"field":"a","type":"quantitative"},"y2":{"field":"z"},"color":{"field":"k","type":"nominal","legend":null,"scale":{"domain":["g","b","o"],"range":["#26a69a","#2962ff","#ff6d00"]}}}}
]},
{"width":1600,"height":77,"data":{"values":[{"t":"TradingView","at":-3.54}]},"layer":[
{"mark":{"type":"text","align":"right","baseline":"middle","font":"Roboto","fontSize":15,"color":"#4a4c55","clip":true},"encoding":{"x":{"field":"at","type":"quantitative","scale":{"domain":[-5.06,120.925],"nice":false,"zero":false,"padding":0},"axis":null},"y":{"datum":0.282,"type":"quantitative","scale":{"domain":[0,1],"nice":false},"axis":null},"text":{"field":"t"}}},
{"mark":{"type":"rule","color":"#f0f3fa","strokeWidth":3},"data":{"values":[{}]},"encoding":{"y":{"datum":0.575,"type":"quantitative","scale":{"domain":[0,1],"nice":false},"axis":null}}}
]}
]}
